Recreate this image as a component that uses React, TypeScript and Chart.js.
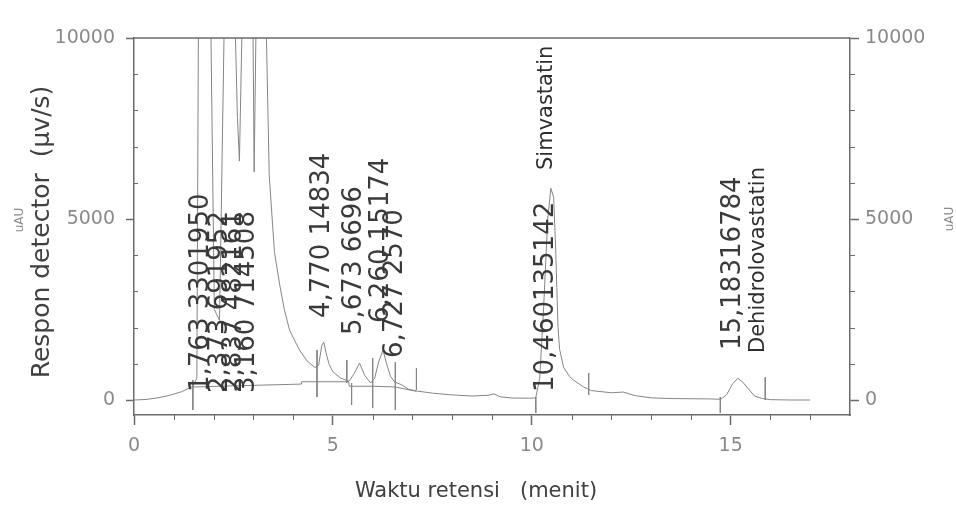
import React, { useEffect, useRef } from 'react';
import { Chart, registerables } from 'chart.js';

Chart.register(...registerables);

// ---- data (retention time in minutes, detector response in uAU) ----
const retentionTimes = [
  0, 0.3, 0.6, 0.9, 1.2, 1.48, 1.58, 1.62, 1.76, 1.93, 2.02, 2.15, 2.27, 2.37, 2.54, 2.6, 2.65, 2.72,
  2.84, 2.99, 3.02, 3.07, 3.16, 3.32, 3.4, 3.53, 3.66, 3.78, 3.91, 4.16, 4.35, 4.55, 4.64, 4.72,
  4.77, 4.83, 4.9, 5.0, 5.2, 5.4, 5.52, 5.67, 5.8, 5.95, 6.05, 6.15, 6.26, 6.35, 6.45, 6.55, 6.73,
  6.9, 7.1, 7.5, 8.0, 8.5, 8.9, 9.05, 9.2, 9.5, 10.0, 10.1, 10.2, 10.3, 10.4, 10.48, 10.55, 10.6,
  10.63, 10.66, 10.7, 10.8, 10.95, 11.05, 11.3, 11.5, 12.0, 12.3, 12.6, 13.0, 13.5, 14.0, 14.5,
  14.75, 14.9, 15.05, 15.18, 15.3, 15.45, 15.6, 15.8, 16.0, 16.5, 17.0,
];
const detectorResponse = [
  0, 15, 60, 130, 230, 380, 600, 10500, 30000, 10500, 2500, 2200, 10500, 30000, 10500, 7800, 6600, 10500,
  30000, 10500, 6300, 10500, 30000, 10500, 6200, 4100, 3200, 2500, 1930, 1380, 1080, 900, 950, 1500,
  1600, 1300, 1000, 780, 600, 520, 700, 1020, 680, 470, 600, 1050, 1380, 1000, 650, 500, 420,
  300, 250, 190, 140, 110, 130, 170, 90, 55, 50, 60, 600, 2600, 5000, 5850, 5600, 4200,
  3100, 2000, 1400, 900, 650, 550, 360, 260, 200, 220, 120, 60, 40, 35, 30,
  20, 150, 450, 600, 500, 300, 110, 40, 10, 0, 0,
];

const integrationBaseTimes = [1.48, 4.2, 4.21, 5.4, 5.41, 6.0, 6.57, 7.1];
const integrationBaseValues = [360, 440, 505, 505, 380, 380, 360, 240];

const markerTimes = [1.48, 4.6, 5.35, 5.47, 6.0, 6.57, 7.1, 10.1, 11.43, 14.74, 15.87];
const markerHigh = [552, 1381, 1105, 470, 1160, 1050, 884, 83, 746, 83, 635];
const markerLow = [-276, 83, 470, -138, -221, -276, 276, -359, 138, -359, 0];

const peakLabelTexts = [
  '1,763 3301950', '2,373 691952', '2,837 482161', '3,160 714508', '4,770 14834', '5,673 6696',
  '6,260 15174', '6,727 2570', '10,460135142', 'Simvastatin', '15,18316784', 'Dehidrolovastatin',
];
const peakLabelTimes = [1.68, 2.16, 2.52, 2.85, 4.72, 5.54, 6.22, 6.57, 10.36, 10.36, 15.06, 15.71];
const peakLabelValues = [221, 193, 193, 193, 2265, 1796, 2127, 1160, 221, 6354, 1381, 1298];
const peakLabelKinds = ['num', 'num', 'num', 'num', 'num', 'num', 'num', 'num', 'num', 'name', 'num', 'name'];

const xMajorTicks = [0, 5, 10, 15];
const xMinorTicks = [1, 2, 3, 4, 6, 7, 8, 9, 11, 12, 13, 14, 16, 17];
const yMajorTicks = [0, 5000, 10000];
const yMinorTicks = [1000, 2000, 3000, 4000, 6000, 7000, 8000, 9000];

const xTitle = 'Waktu retensi   (menit)';
const yTitle = 'Respon detector  (µv/s)';
const unitLabel = 'uAU';

const FONT = '"DejaVu Sans", "Liberation Sans", sans-serif';
const AXIS = '#6a6a6a';
const TRACE = '#858585';

const overlay = {
  id: 'overlay',
  afterDraw(chart: any) {
    const { ctx, chartArea: a, scales } = chart;
    const sx = scales.x;
    const sy = scales.y;
    ctx.save();
    // top frame line
    ctx.strokeStyle = AXIS;
    ctx.lineWidth = 1.5;
    ctx.beginPath();
    ctx.moveTo(a.left, a.top);
    ctx.lineTo(a.right, a.top);
    ctx.stroke();
    // minor ticks
    ctx.lineWidth = 1;
    ctx.beginPath();
    xMinorTicks.forEach((t) => {
      const px = Math.round(sx.getPixelForValue(t)) + 0.5;
      ctx.moveTo(px, a.bottom);
      ctx.lineTo(px, a.bottom + 5);
    });
    yMinorTicks.forEach((v) => {
      const py = Math.round(sy.getPixelForValue(v)) + 0.5;
      ctx.moveTo(a.left, py);
      ctx.lineTo(a.left + 4, py);
      ctx.moveTo(a.right, py);
      ctx.lineTo(a.right + 5, py);
    });
    ctx.stroke();

    // peak labels
    ctx.textAlign = 'left';
    ctx.textBaseline = 'middle';
    peakLabelTexts.forEach((txt, i) => {
      const px = sx.getPixelForValue(peakLabelTimes[i]);
      const py = sy.getPixelForValue(peakLabelValues[i]);
      ctx.save();
      ctx.translate(px, py);
      ctx.rotate(-Math.PI / 2);
      const isName = peakLabelKinds[i] === 'name';
      ctx.fillStyle = isName ? '#2e2e2e' : '#3a3a3a';
      ctx.font = (isName ? '21px ' : '26px ') + FONT;
      ctx.fillText(txt, 0, 0);
      ctx.restore();
    });

    // axis titles
    ctx.fillStyle = '#404040';
    ctx.textAlign = 'center';
    ctx.font = '21px ' + FONT;
    ctx.fillText(xTitle, 476, 492);
    ctx.save();
    ctx.translate(42, 232);
    ctx.rotate(-Math.PI / 2);
    ctx.font = '25px ' + FONT;
    ctx.fillText(yTitle, 0, 0);
    ctx.restore();

    // unit labels
    ctx.fillStyle = '#8a8a8a';
    ctx.font = '12px ' + FONT;
    [[20, 220], [950, 219]].forEach(([ux, uy]) => {
      ctx.save();
      ctx.translate(ux, uy);
      ctx.rotate(-Math.PI / 2);
      ctx.fillText(unitLabel, 0, 0);
      ctx.restore();
    });
    ctx.restore();
  },
};

export default function App() {
  const ref = useRef<HTMLCanvasElement | null>(null);

  useEffect(() => {
    if (!ref.current) return;
    const signal = retentionTimes.map((t, i) => ({ x: t, y: detectorResponse[i] }));
    const base = integrationBaseTimes.map((t, i) => ({ x: t, y: integrationBaseValues[i] }));
    const markers: any[] = [];
    markerTimes.forEach((t, i) => {
      markers.push({ x: t, y: markerHigh[i] }, { x: t, y: markerLow[i] }, { x: t, y: null });
    });

    const tickFont = { family: FONT, size: 19 };
    const plain = (v: any) => String(v);
    const yAxisCommon = {
      type: 'linear' as const,
      min: -414,
      max: 10000,
      afterBuildTicks: (s: any) => {
        s.ticks = yMajorTicks.map((v) => ({ value: v }));
      },
      grid: { drawOnChartArea: false, drawTicks: true, tickColor: AXIS, tickWidth: 1.5 },
      border: { display: true, color: AXIS, width: 1.5 },
    };

    const chart = new Chart(ref.current, {
      type: 'line',
      data: {
        datasets: [
          { data: signal as any, borderColor: TRACE, borderWidth: 1, pointRadius: 0, tension: 0 },
          { data: base as any, borderColor: TRACE, borderWidth: 1, pointRadius: 0, tension: 0 },
          { data: markers, borderColor: TRACE, borderWidth: 1, pointRadius: 0, spanGaps: false },
        ],
      },
      options: {
        responsive: false,
        animation: false,
        layout: { padding: { top: 38, left: 0, right: 0, bottom: 0 } },
        plugins: { legend: { display: false }, tooltip: { enabled: false } },
        scales: {
          x: {
            type: 'linear',
            min: 0,
            max: 18,
            afterBuildTicks: (s: any) => {
              s.ticks = xMajorTicks.map((v) => ({ value: v }));
            },
            afterFit: (s: any) => {
              s.height = 92;
            },
            ticks: { color: '#8a8a8a', font: tickFont, padding: 10, maxRotation: 0, callback: plain },
            grid: { drawOnChartArea: false, drawTicks: true, tickLength: 10, tickColor: AXIS, tickWidth: 1.5 },
            border: { display: true, color: AXIS, width: 1.5 },
          },
          y: {
            ...yAxisCommon,
            position: 'left',
            afterFit: (s: any) => {
              s.width = 134;
            },
            ticks: { color: '#8a8a8a', font: tickFont, padding: 11, callback: plain },
            grid: { ...yAxisCommon.grid, tickLength: 8 },
          },
          y2: {
            ...yAxisCommon,
            position: 'right',
            afterFit: (s: any) => {
              s.width = 106;
            },
            ticks: { color: '#8a8a8a', font: tickFont, padding: 6, callback: plain },
            grid: { ...yAxisCommon.grid, tickLength: 9 },
          },
        },
      } as any,
      plugins: [overlay],
    });
    return () => chart.destroy();
  }, []);

  return (
    <div style={{ position: 'absolute', left: 0, top: 0, width: 956, height: 507, background: '#ffffff' }}>
      <canvas ref={ref} width={956} height={507} style={{ width: 956, height: 507, display: 'block' }} />
    </div>
  );
}
